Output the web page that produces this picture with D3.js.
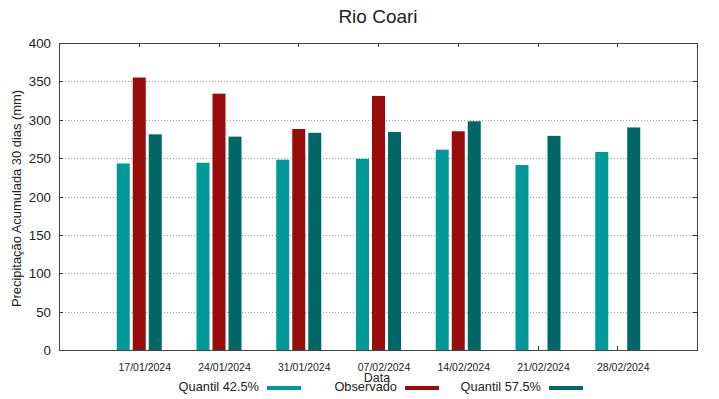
<!DOCTYPE html>
<html>
<head>
<meta charset="utf-8">
<script src="https://cdn.jsdelivr.net/npm/d3@7"></script>
<style>
  body { margin: 0; background: #fff; }
  text { font-family: "Liberation Sans", Arial, sans-serif; fill: #222; }
</style>
</head>
<body>
<svg id="chart" width="719" height="399"></svg>
<script>
const dates = ["17/01/2024", "24/01/2024", "31/01/2024", "07/02/2024", "14/02/2024", "21/02/2024", "28/02/2024"];
const series = ["Quantil 42.5%", "Observado", "Quantil 57.5%"];
const q425 = [243, 244, 248, 249, 261, 241, 258];
const observado = [355, 334, 288, 331, 285, null, null];
const q575 = [281, 278, 283, 284, 298, 279, 290];
const yTicks = [0, 50, 100, 150, 200, 250, 300, 350, 400];

const colors = ["#009999", "#990c0c", "#006666"];
const values = [q425, observado, q575];

const margin = { top: 43, right: 22, bottom: 49, left: 59 };
const width = 719, height = 399;

const svg = d3.select("#chart");

const x = d3.scalePoint()
  .domain(dates)
  .range([margin.left, width - margin.right])
  .padding(1);

const xs = d3.scaleBand()
  .domain(series)
  .range([-22, 23])
  .paddingInner(0.1875);

const y = d3.scaleLinear()
  .domain([0, 400])
  .range([height - margin.bottom, margin.top]);

const x0 = margin.left, x1 = width - margin.right;
const y0 = y(0), y1 = y(400);

// grid
svg.append("g")
  .selectAll("line")
  .data(yTicks.slice(1, -1))
  .join("line")
  .attr("x1", x0).attr("x2", x1)
  .attr("y1", d => Math.round(y(d)) + 0.5).attr("y2", d => Math.round(y(d)) + 0.5)
  .attr("stroke", "#a0a0a0")
  .attr("stroke-dasharray", "1,2");

// bars
const rows = dates.map((d, i) => series.map((s, j) => ({ date: d, s, v: values[j][i], c: colors[j] })));
svg.append("g")
  .selectAll("g")
  .data(rows)
  .join("g")
  .attr("transform", d => `translate(${x(d[0].date)},0)`)
  .selectAll("rect")
  .data(d => d.filter(e => e.v != null))
  .join("rect")
  .attr("x", d => xs(d.s))
  .attr("width", xs.bandwidth())
  .attr("y", d => y(d.v))
  .attr("height", d => y(0) - y(d.v))
  .attr("fill", d => d.c);

// ticks (inward, mirrored)
const tk = svg.append("g").attr("stroke", "#333").attr("stroke-width", 1);
yTicks.forEach(t => {
  const yy = Math.round(y(t)) + 0.5;
  tk.append("line").attr("x1", x0).attr("x2", x0 + 4).attr("y1", yy).attr("y2", yy);
  tk.append("line").attr("x1", x1 - 4).attr("x2", x1).attr("y1", yy).attr("y2", yy);
});
dates.forEach(d => {
  const xx = Math.round(x(d)) + 0.5;
  tk.append("line").attr("x1", xx).attr("x2", xx).attr("y1", y0).attr("y2", y0 - 4);
  tk.append("line").attr("x1", xx).attr("x2", xx).attr("y1", y1).attr("y2", y1 + 4);
});

// border
svg.append("rect")
  .attr("x", x0 + 0.5).attr("y", Math.round(y1) + 0.5)
  .attr("width", x1 - x0).attr("height", Math.round(y0) - Math.round(y1))
  .attr("fill", "none").attr("stroke", "#444").attr("stroke-width", 1);

// y tick labels
svg.append("g")
  .selectAll("text")
  .data(yTicks)
  .join("text")
  .attr("x", 51)
  .attr("y", d => y(d) + 5)
  .attr("text-anchor", "end")
  .attr("font-size", 13.3)
  .text(d => d);

// x tick labels
svg.append("g")
  .selectAll("text")
  .data(dates)
  .join("text")
  .attr("x", d => x(d) + 6)
  .attr("y", 371)
  .attr("text-anchor", "middle")
  .attr("font-size", 10.5)
  .text(d => d);

// titles
svg.append("text")
  .attr("x", 378).attr("y", 23)
  .attr("text-anchor", "middle")
  .attr("font-size", 19)
  .text("Rio Coari");

svg.append("text")
  .attr("transform", `translate(21,${(y0 + y1) / 2 + 2}) rotate(-90)`)
  .attr("text-anchor", "middle")
  .attr("font-size", 12.9)
  .text("Precipitação Acumulada 30 dias (mm)");

svg.append("text")
  .attr("x", 377).attr("y", 382)
  .attr("text-anchor", "middle")
  .attr("font-size", 12.5)
  .text("Data");

// legend
const legX = [259, 397, 541];
const legend = svg.append("g")
  .selectAll("g")
  .data(series)
  .join("g")
  .attr("transform", (d, i) => `translate(${legX[i]},0)`);
legend.append("text")
  .attr("y", 391)
  .attr("text-anchor", "end")
  .attr("font-size", 12.8)
  .text(d => d);
legend.append("rect")
  .attr("x", 8).attr("y", 386)
  .attr("width", 34).attr("height", 4)
  .attr("fill", (d, i) => colors[i]);
</script>
</body>
</html>
